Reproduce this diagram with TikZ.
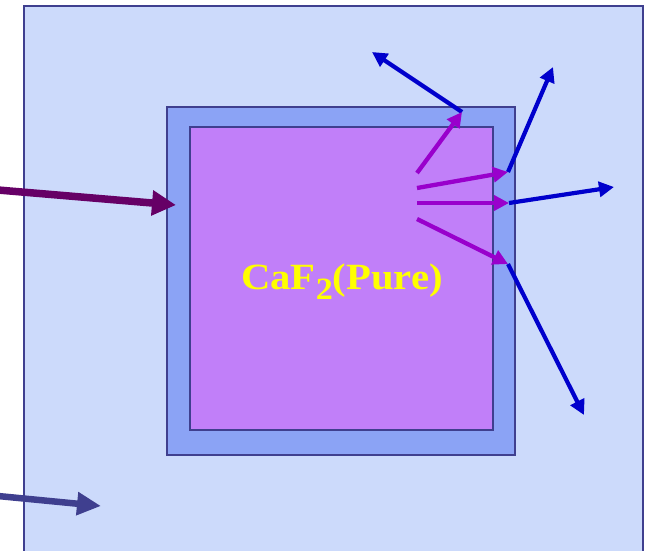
\documentclass[tikz,border=0pt]{standalone}
\usepackage{fontspec}
\setmainfont{Liberation Serif}
\usetikzlibrary{arrows.meta}
\definecolor{outerfill}{HTML}{CCDAFB}
\definecolor{midfill}{HTML}{8BA3F5}
\definecolor{innerfill}{HTML}{C17FF9}
\definecolor{frame}{HTML}{3F3F8F}
\definecolor{incoming}{HTML}{660066}
\definecolor{navyarrow}{HTML}{3F3F8F}
\definecolor{inray}{HTML}{9900CC}
\definecolor{outray}{HTML}{0000CC}
\definecolor{labelyellow}{HTML}{FFFF00}
\tikzset{
  boxframe/.style={draw=frame, line width=2.4pt},
  bigarrow/.style={line width=7.5pt, -{Triangle[length=24pt,width=24pt]}},
  innerarrow/.style={draw=inray, line width=4.3pt, -{Triangle[length=15pt,width=15pt]}},
  outerarrow/.style={draw=outray, line width=4.2pt, -{Triangle[length=15pt,width=15pt]}},
}
\begin{document}
\begin{tikzpicture}[x=1pt,y=-1pt]
\useasboundingbox (0,0) rectangle (646,550);
\clip (0,0) rectangle (646,550);
\fill[white] (0,0) rectangle (646,550);
% boxes
\draw[boxframe, fill=outerfill] (24,6) rectangle (643,570);
\draw[boxframe, fill=midfill] (167,107) rectangle (515,455);
\draw[boxframe, fill=innerfill] (190,127) rectangle (493,430);
\node[text=labelyellow, font=\fontsize{37}{37}\selectfont\bfseries, inner sep=0pt, anchor=base] (label) at (342,289)
  {\scalebox{1.1}[1]{CaF\raisebox{-10pt}{\fontsize{31}{31}\selectfont 2}(Pure)}};
% coordinates
\coordinate (inA) at (-2,190);
\coordinate (inAend) at (176,205);
\coordinate (inB) at (-2,496);
\coordinate (inBend) at (101,506);
\coordinate (s1) at (417,173);
\coordinate (s2) at (417,188);
\coordinate (s3) at (417,203);
\coordinate (s4) at (417,219);
\coordinate (e1) at (462,112);
\coordinate (e2) at (508,172);
\coordinate (e3) at (509,203);
\coordinate (e4) at (508,264);
\coordinate (o1) at (372,52);
\coordinate (o2) at (553,67);
\coordinate (o3) at (614,187);
\coordinate (o4) at (584,415);
% incoming arrows
\draw[bigarrow, draw=incoming] (inA) -- (inAend);
\draw[line width=6.5pt, draw=navyarrow, -{Triangle[length=24pt,width=22pt]}] (inB) -- (inBend);
% outgoing rays
\draw[outerarrow] (e1) -- (o1);
\draw[outerarrow] (e2) -- (o2);
\draw[outerarrow] (e3) -- (o3);
\draw[outerarrow] (e4) -- (o4);
% internal rays
\draw[innerarrow] (s1) -- (e1);
\draw[innerarrow] (s2) -- (e2);
\draw[innerarrow] (s3) -- (e3);
\draw[innerarrow] (s4) -- (e4);
\end{tikzpicture}
\end{document}
